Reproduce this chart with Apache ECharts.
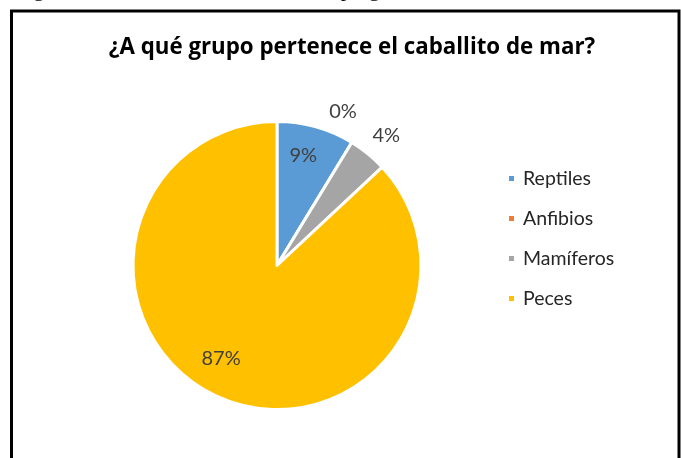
<!DOCTYPE html>
<html>
<head>
<meta charset="utf-8">
<script src="https://cdn.jsdelivr.net/npm/echarts@6/dist/echarts.min.js"></script>
<style>
html,body{margin:0;padding:0;background:#fff;}
#c{width:681px;height:458px;}
</style>
</head>
<body>
<div id="c"></div>
<script>
// Data
const chartTitle = '¿A qué grupo pertenece el caballito de mar?';
const captionText = 'Figura 4. Resultados obtenidos de la pregunta 4';
const categories = ['Reptiles', 'Anfibios', 'Mamíferos', 'Peces'];
const counts = [2, 0, 1, 20];
const colors = ['#5B9BD5', '#ED7D31', '#A5A5A5', '#FFC000'];

// label nudges (layout only)
const labelShift = [[6, -38], [27, -90], [62, -72], [-26, 24]];

const chart = echarts.init(document.getElementById('c'), null, {renderer: 'canvas'});
const font = 'Lato, "Open Sans", sans-serif';

chart.setOption({
  animation: false,
  backgroundColor: '#ffffff',
  color: colors,
  title: {
    text: chartTitle,
    left: 347,
    textAlign: 'center',
    top: 32,
    textStyle: {fontFamily: '"Open Sans", sans-serif', fontSize: 22.3, fontWeight: 'bold', color: '#000000'}
  },
  legend: {
    orient: 'vertical',
    left: 502,
    top: 163.5,
    itemWidth: 7,
    itemHeight: 7,
    itemGap: 20,
    icon: 'rect',
    data: categories,
    textStyle: {fontFamily: font, fontSize: 19.5, color: '#262626', lineHeight: 20, padding: [0, 0, 0, 3]}
  },
  graphic: [
    {
      type: 'rect',
      silent: true,
      shape: {x: 11.5, y: 11, width: 667.5, height: 470},
      style: {fill: 'none', stroke: '#000000', lineWidth: 3}
    },
    {
      type: 'text',
      silent: true,
      left: 15,
      top: -21,
      style: {text: captionText, font: '22px "Liberation Serif", serif', fill: '#000000'}
    }
  ],
  series: [{
    type: 'pie',
    center: [277, 265.5],
    radius: 144,
    startAngle: 90,
    clockwise: true,
    avoidLabelOverlap: false,
    percentPrecision: 0,
    itemStyle: {borderColor: '#ffffff', borderWidth: 3},
    label: {
      show: true,
      position: 'inside',
      formatter: '{d}%',
      fontFamily: font,
      fontSize: 20,
      color: '#404040'
    },
    labelLine: {show: false},
    emphasis: {disabled: true},
    labelLayout: function (p) {
      const s = labelShift[p.dataIndex];
      return {dx: s[0], dy: s[1]};
    },
    data: categories.map((n, i) => ({name: n, value: counts[i]}))
  }]
});
</script>
</body>
</html>
